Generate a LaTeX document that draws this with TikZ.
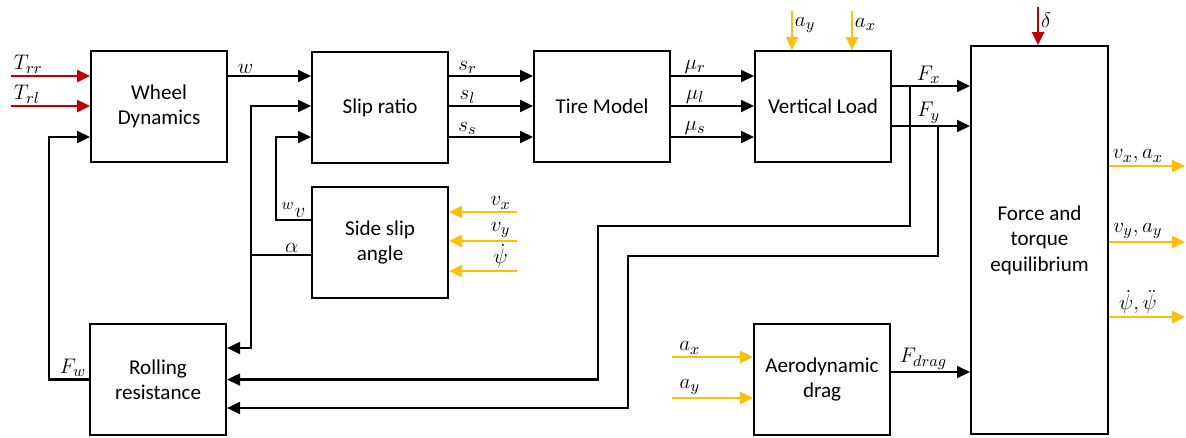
\documentclass[tikz,border=0pt]{standalone}
\usepackage{fontspec}
\setmainfont{Carlito}
\usepackage{xcolor}
\definecolor{corange}{RGB}{255, 192, 0}
\definecolor{cred}{RGB}{192, 0, 0}
\usetikzlibrary{arrows.meta}

\begin{document}
\begin{tikzpicture}[
    x=0.02cm, y=-0.02cm,
    block/.style={
      draw,
      line width=1.2pt,
      anchor=north west,
      minimum width=2.72cm,
      minimum height=2.22cm,
      align=center,
      inner sep=2pt,
      font=\fontsize{12}{14.5}\selectfont
    },
    wire/.style={line width=1.2pt},
    sig/.style={wire, -{Triangle[length=2.6mm,width=2.4mm]}},
    ysig/.style={sig, draw=corange, line width=1.4pt},
    rsig/.style={sig, draw=cred, line width=1.4pt},
    lab/.style={inner sep=1pt, font=\fontsize{12.5}{14}\selectfont}
  ]
  \useasboundingbox (0,0) rectangle (1186,437);

  % blocks
  \node[block] (wheel) at (90,50) {Wheel\\Dynamics};
  \node[block] (slip) at (311,51) {Slip ratio};
  \node[block] (tire) at (533,50) {Tire Model};
  \node[block] (vload) at (754,50) {Vertical Load};
  \node[block, minimum width=2.74cm, minimum height=7.76cm] (force) at (970,45)
    {Force and\\torque\\equilibrium};
  \node[block] (side) at (311,186) {Side slip\\angle};
  \node[block] (roll) at (89,323) {Rolling\\resistance};
  \node[block] (aero) at (753,323) {Aerodynamic\\drag};

  % rows and columns of the wiring
  \coordinate (ra) at (0,76);
  \coordinate (rb) at (0,106);
  \coordinate (rc) at (0,137);
  \coordinate (fx) at (0,86);
  \coordinate (fy) at (0,126);
  \coordinate (wv) at (0,220);
  \coordinate (al) at (0,255);
  \coordinate (fxd) at (0,226);
  \coordinate (fyd) at (0,256);
  \coordinate (rr1) at (0,348);
  \coordinate (rr3) at (0,408);
  \coordinate (fd) at (0,372);
  \coordinate (xfw) at (49,0);
  \coordinate (xal) at (251,0);
  \coordinate (xwv) at (276,0);
  \coordinate (xfx) at (910,0);
  \coordinate (xfy) at (938,0);
  \coordinate (xfxl) at (598,0);
  \coordinate (xfyl) at (628,0);

  % free ends
  \coordinate (trr) at (11,76);
  \coordinate (trl) at (11,106);
  \coordinate (vx) at (517,212);
  \coordinate (vy) at (517,241);
  \coordinate (psi) at (517,271);
  \coordinate (ayt) at (792,11);
  \coordinate (axt) at (852,11);
  \coordinate (dlt) at (1038,7);
  \coordinate (axa) at (672,357);
  \coordinate (aya) at (672,398);
  \coordinate (o1) at (1185,166);
  \coordinate (o2) at (1185,242);
  \coordinate (o3) at (1185,317);

  % torques
  \draw[rsig] (trr) node[lab, above right]{$T_{rr}$} -- (wheel.west |- trr);
  \draw[rsig] (trl) node[lab, above right]{$T_{rl}$} -- (wheel.west |- trl);
  \draw[rsig] (dlt) -- node[lab, right, pos=0.35]{$\delta$} (dlt |- force.north);

  % main chain
  \draw[sig] (wheel.east |- ra) -- node[lab, above, pos=0.21]{$w$} (slip.west |- ra);
  \draw[sig] (slip.east |- ra) -- node[lab, above, pos=0.22]{$s_r$} (tire.west |- ra);
  \draw[sig] (slip.east |- rb) -- node[lab, above, pos=0.22]{$s_l$} (tire.west |- rb);
  \draw[sig] (slip.east |- rc) -- node[lab, above, pos=0.22]{$s_s$} (tire.west |- rc);
  \draw[sig] (tire.east |- ra) -- node[lab, above, pos=0.29]{$\mu_r$} (vload.west |- ra);
  \draw[sig] (tire.east |- rb) -- node[lab, above, pos=0.29]{$\mu_l$} (vload.west |- rb);
  \draw[sig] (tire.east |- rc) -- node[lab, above, pos=0.29]{$\mu_s$} (vload.west |- rc);
  \draw[ysig] (ayt) -- node[lab, right, pos=0.35]{$a_y$} (ayt |- vload.north);
  \draw[ysig] (axt) -- node[lab, right, pos=0.35]{$a_x$} (axt |- vload.north);
  \draw[sig] (vload.east |- fx) -- node[lab, above, pos=0.47]{$F_x$} (force.west |- fx);
  \draw[sig] (vload.east |- fy) -- node[lab, above, pos=0.47]{$F_y$} (force.west |- fy);

  % side slip
  \draw[ysig] (vx) -- node[lab, above, pos=0.24]{$v_x$} (side.east |- vx);
  \draw[ysig] (vy) -- node[lab, above, pos=0.24]{$v_y$} (side.east |- vy);
  \draw[ysig] (psi) -- node[lab, above, pos=0.24]{$\dot{\psi}$} (side.east |- psi);
  \draw[sig] (side.west |- wv) -- node[lab, above]{${}^{w}v$} (xwv |- wv)
    -- (xwv |- rc) -- (slip.west |- rc);
  \draw[wire] (side.west |- al) -- node[lab, above, pos=0.32]{$\alpha$} (xal |- al);
  \draw[sig] (xal |- al) -- (xal |- rb) -- (slip.west |- rb);
  \draw[sig] (xal |- al) -- (xal |- rr1) -- (roll.east |- rr1);

  % rolling resistance
  \draw[sig] (roll.west) -- node[lab, above, pos=0.4]{$F_w$} (xfw |- roll.west)
    -- (xfw |- rc) -- (wheel.west |- rc);
  \draw[sig] (xfx |- fx) -- (xfx |- fxd) -- (xfxl |- fxd) -- (xfxl |- roll.east)
    -- (roll.east);
  \draw[sig] (xfy |- fy) -- (xfy |- fyd) -- (xfyl |- fyd) -- (xfyl |- rr3)
    -- (roll.east |- rr3);

  % aerodynamic drag
  \draw[ysig] (axa) -- node[lab, above, pos=0.22]{$a_x$} (aero.west |- axa);
  \draw[ysig] (aya) -- node[lab, above, pos=0.22]{$a_y$} (aero.west |- aya);
  \draw[sig] (aero.east |- fd) -- node[lab, above, pos=0.41]{$F_{drag}$} (force.west |- fd);

  % outputs
  \draw[ysig] (force.east |- o1) -- node[lab, above, pos=0.38]{$v_x, a_x$} (o1);
  \draw[ysig] (force.east |- o2) -- node[lab, above, pos=0.38]{$v_y, a_y$} (o2);
  \draw[ysig] (force.east |- o3) -- node[lab, above, pos=0.38]{$\dot{\psi}, \ddot{\psi}$} (o3);
\end{tikzpicture}
\end{document}
